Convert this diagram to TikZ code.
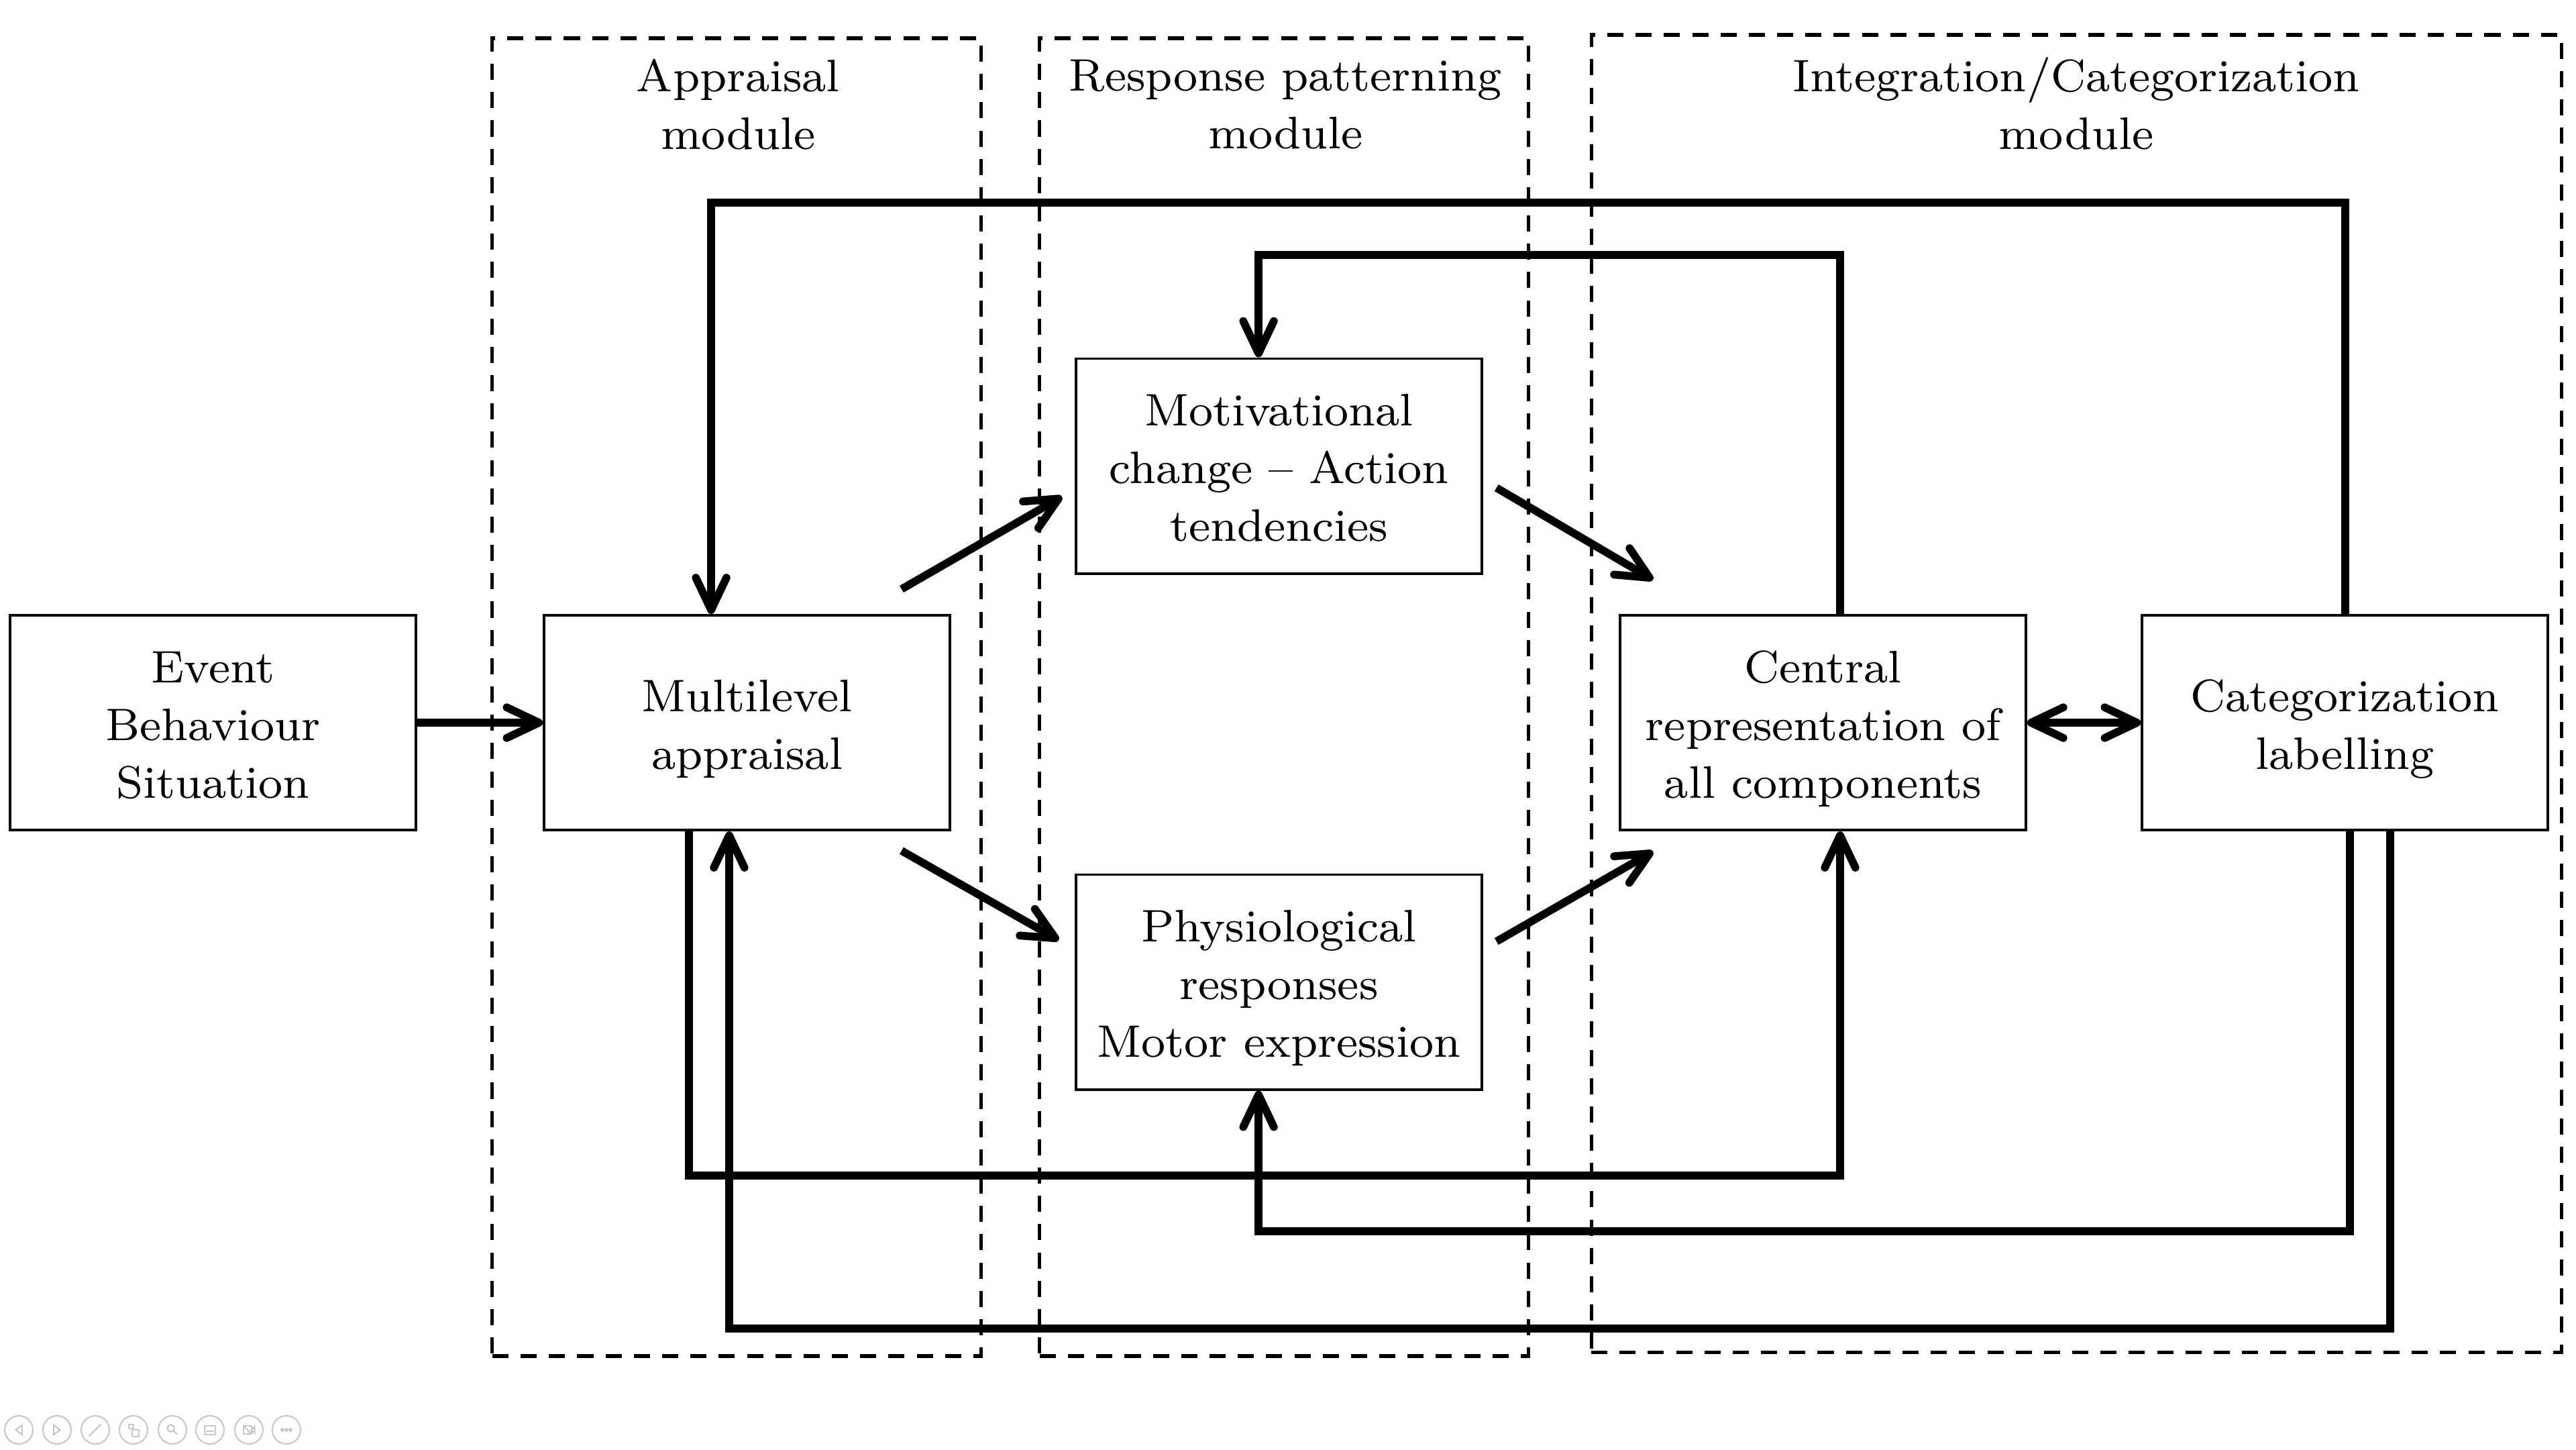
\documentclass[tikz,border=0pt]{standalone}
\usetikzlibrary{arrows.meta,calc}
\begin{document}
\begin{tikzpicture}[
  every node/.style={font=\fontsize{8.05}{10.2}\selectfont},
  box/.style={draw, line width=0.44pt, minimum width=2.52cm, minimum height=1.335cm, align=center, inner sep=0pt, text depth=0pt},
  boxiii/.style={box, text height=26.6pt},
  boxii/.style={box, text height=16.5pt},
  module/.style={draw, line width=0.6pt, dash pattern=on 2.85pt off 2.15pt, inner sep=0pt},
  title/.style={align=center, inner sep=0pt, execute at begin node=\strut, execute at end node=\strut},
  conn/.style={line width=1.39pt},
  arr/.style={conn, -{Straight Barb[length=5.7pt, width=5.4pt, round]}},
  darr/.style={conn, {Straight Barb[length=5.7pt, width=5.4pt, round]}-{Straight Barb[length=5.7pt, width=5.4pt, round]}},
  nav/.style={draw=black!22, line width=0.25pt},
  navc/.style={circle, draw=black!22, line width=0.25pt, minimum size=0.175cm, inner sep=0pt}
]
\useasboundingbox (0,0) rectangle (16,-9);

% modules
\node[module, minimum width=3.034cm, minimum height=8.183cm] (appmod) at (4.575,-4.329) {};
\node[module, minimum width=3.034cm, minimum height=8.183cm] (resmod) at (7.975,-4.329) {};
\node[module, minimum width=6.025cm, minimum height=8.183cm] (intmod) at (12.896,-4.308) {};
\node[title] (appt) at ($(appmod.north)+(0.01,-0.475)$) {Appraisal\\module};
\node[title] (rest) at ($(resmod.north)+(0.01,-0.475)$) {Response patterning\\module};
\node[title] (intt) at ($(intmod.north)+(0,-0.49)$) {Integration/Categorization\\module};

% boxes
\node[boxiii, fill=white] (ev)  at (1.323,-4.4875) {Event\\Behaviour\\Situation};
\node[boxii, fill=white] (ma)  at (4.640,-4.4875) {Multilevel\\appraisal};
\node[boxiii, fill=white] (mot) at (7.944,-2.894) {Motivational\\change -- Action\\tendencies};
\node[boxiii, fill=white] (phy) at (7.944,-6.098) {Physiological\\responses\\Motor expression};
\node[boxiii, fill=white] (cr)  at (11.323,-4.4875) {Central\\representation of\\all components};
\node[boxii, fill=white] (cat) at (14.565,-4.4875) {Categorization\\labelling};

% straight arrows
\draw[arr] (ev) -- (ma);
\draw[darr] (cr) -- (cat);

% diagonal arrows
\coordinate (d1s) at ($(ma.north east)+(-0.308,0.154)$);
\coordinate (d1e) at ($(mot.west)+(-0.08,-0.19)$);
\coordinate (d2s) at ($(ma.south east)+(-0.308,-0.12)$);
\coordinate (d2e) at ($(phy.west)+(-0.10,0.26)$);
\coordinate (d3s) at ($(mot.east)+(0.083,-0.135)$);
\coordinate (d3e) at ($(cr.west)+(0.212,0.8875)$);
\coordinate (d4s) at ($(phy.east)+(0.083,0.252)$);
\coordinate (d4e) at ($(cr.west)+(0.212,-0.80)$);
\draw[arr] (d1s) -- (d1e);
\draw[arr] (d2s) -- (d2e);
\draw[arr] (d3s) -- (d3e);
\draw[arr] (d4s) -- (d4e);

% feedback loops
\coordinate (t1) at (4.417,-1.258);
\draw[arr] (cat.north) |- (t1) -- (t1 |- ma.north);
\coordinate (t2) at (7.817,-1.583);
\draw[arr] ($(cr.north)+(0.106,0)$) |- (t2) -- (t2 |- mot.north);
\coordinate (b1) at (11.429,-7.30);
\draw[arr] ($(ma.south)+(-0.361,0)$) |- (b1) -- (b1 |- cr.south);
\coordinate (b2) at (7.817,-7.646);
\draw[arr] ($(cat.south)+(0.031,0)$) |- (b2) -- (b2 |- phy.south);
\coordinate (b3) at (4.529,-8.25);
\draw[arr] ($(cat.south)+(0.281,0)$) |- (b3) -- (b3 |- ma.south);

% navigation symbols
\node[navc] (n1) at (0.117,-8.879) {};
\node[navc] (n2) at (0.354,-8.879) {};
\node[navc] (n3) at (0.592,-8.879) {};
\node[navc] (n4) at (0.829,-8.879) {};
\node[navc] (n5) at (1.071,-8.879) {};
\node[navc] (n6) at (1.304,-8.879) {};
\node[navc] (n7) at (1.546,-8.879) {};
\node[navc] (n8) at (1.779,-8.879) {};
\draw[nav] ($(n1)+(0.02,0.03)$) -- ($(n1)+(-0.02,0)$) -- ($(n1)+(0.02,-0.03)$) -- cycle;
\draw[nav] ($(n2)+(-0.02,0.03)$) -- ($(n2)+(0.02,0)$) -- ($(n2)+(-0.02,-0.03)$) -- cycle;
\draw[nav] ($(n3)+(-0.04,-0.04)$) -- ($(n3)+(0.035,0.035)$);
\draw[nav] ($(n4)+(-0.03,0.035)$) rectangle ($(n4)+(0.0,0.01)$);
\draw[nav] ($(n4)+(-0.01,0.0)$) rectangle ($(n4)+(0.035,-0.04)$);
\draw[nav] ($(n5)+(-0.01,0.01)$) circle (0.022);
\draw[nav] ($(n5)+(0.006,-0.006)$) -- ($(n5)+(0.03,-0.03)$);
\draw[nav] ($(n6)+(-0.035,0.025)$) rectangle ($(n6)+(0.035,-0.03)$);
\draw[nav] ($(n6)+(-0.025,-0.01)$) -- ($(n6)+(0.025,-0.01)$);
\draw[nav] ($(n7)+(-0.035,0.025)$) rectangle ($(n7)+(0.015,-0.025)$);
\draw[nav] ($(n7)+(0.015,0.0)$) -- ($(n7)+(0.035,0.02)$) -- ($(n7)+(0.035,-0.02)$) -- cycle;
\draw[nav] ($(n7)+(-0.035,0.025)$) -- ($(n7)+(0.015,-0.025)$);
\draw[nav] ($(n8)+(-0.025,0)$) circle (0.008);
\draw[nav] ($(n8)$) circle (0.008);
\draw[nav] ($(n8)+(0.025,0)$) circle (0.008);
\end{tikzpicture}
\end{document}
